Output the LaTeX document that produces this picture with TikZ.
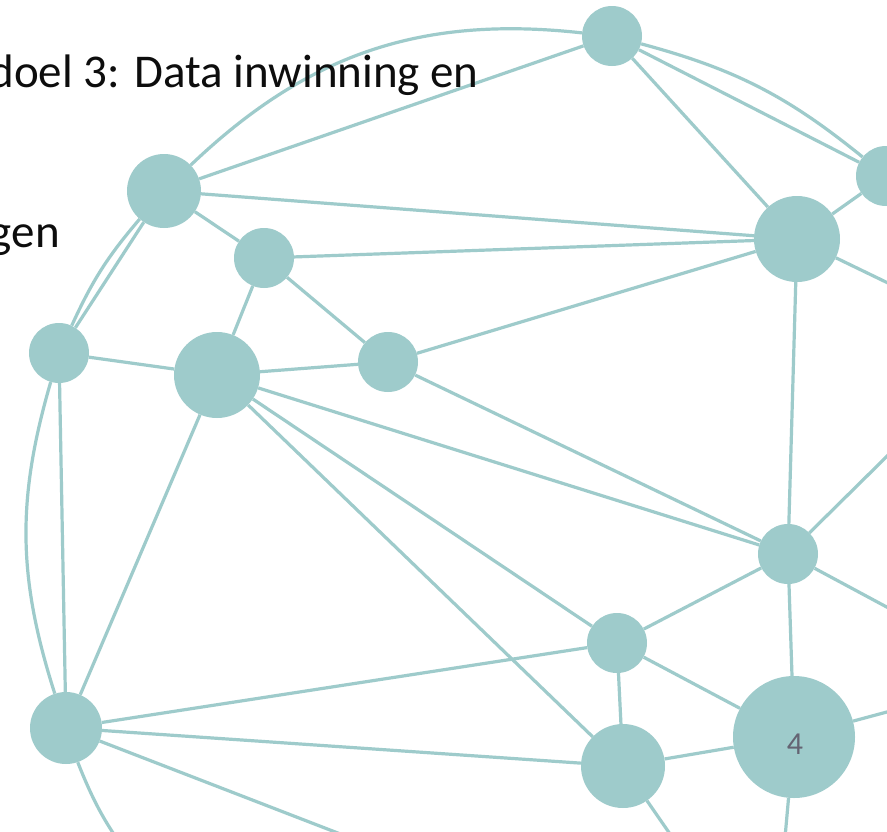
\documentclass[tikz,border=0pt]{standalone}
\usepackage{fontspec}
\setmainfont{Carlito}
\usetikzlibrary{backgrounds}
\definecolor{netteal}{RGB}{158,203,203}
\definecolor{inktext}{RGB}{13,13,13}
\definecolor{pagegray}{RGB}{100,100,115}
\begin{document}
\begin{tikzpicture}[x=1pt,y=-1pt,
  dot/.style={circle, fill=netteal, inner sep=0pt, minimum size=#1},
  link/.style={draw=netteal, line width=3.2pt},
  title/.style={font=\fontsize{47}{56}\selectfont, text=inktext, inner sep=0pt}]
\useasboundingbox (0,0) rectangle (887,831);
\clip (0,0) rectangle (887,831);

% network nodes
\node[dot=60pt]  (A) at (612,36)  {};
\node[dot=74pt]  (B) at (164,191) {};
\node[dot=60pt]  (C) at (264,258) {};
\node[dot=60pt]  (D) at (886,176) {};
\node[dot=86pt]  (E) at (797,239) {};
\node[dot=60pt]  (F) at (59,353)  {};
\node[dot=86pt]  (G) at (217,375) {};
\node[dot=60pt]  (H) at (388,362) {};
\node[dot=60pt]  (I) at (788,554) {};
\node[dot=60pt]  (J) at (617,643) {};
\node[dot=84pt]  (K) at (623,766) {};
\node[dot=122pt] (L) at (794,737) {};
\node[dot=72pt]  (M) at (66,728)  {};

% links that leave the page
\coordinate (eOut)  at (950,313);
\coordinate (iOutA) at (950,394);
\coordinate (iOutB) at (950,641);
\coordinate (lOutR) at (950,695);
\coordinate (lOutB) at (783,860);
\coordinate (kOut)  at (688,860);
\coordinate (mOutA) at (387,852);
\coordinate (mOutB) at (150,880);

\begin{scope}[on background layer]
  \fill[white] (0,0) rectangle (887,831);
  % outer ring
  \draw[link] (F) to[bend left=8] (B);
  \draw[link] (B) to[bend left=25] (A);
  \draw[link] (A) to[bend left=12] (D);
  \draw[link] (F) to[bend right=17] (M);
  \draw[link] (M) to[bend right=10] (mOutB);
  % straight links
  \draw[link] (A) -- (B);
  \draw[link] (A) -- (D);
  \draw[link] (A) -- (E);
  \draw[link] (B) -- (E);
  \draw[link] (B) -- (C);
  \draw[link] (B) -- (F);
  \draw[link] (C) -- (E);
  \draw[link] (C) -- (G);
  \draw[link] (C) -- (H);
  \draw[link] (D) -- (E);
  \draw[link] (E) -- (H);
  \draw[link] (E) -- (I);
  \draw[link] (E) -- (eOut);
  \draw[link] (F) -- (G);
  \draw[link] (F) -- (M);
  \draw[link] (G) -- (H);
  \draw[link] (G) -- (I);
  \draw[link] (H) -- (I);
  \draw[link] (G) -- (J);
  \draw[link] (G) -- (K);
  \draw[link] (G) -- (M);
  \draw[link] (I) -- (J);
  \draw[link] (I) -- (L);
  \draw[link] (I) -- (iOutA);
  \draw[link] (I) -- (iOutB);
  \draw[link] (J) -- (K);
  \draw[link] (J) -- (L);
  \draw[link] (J) -- (M);
  \draw[link] (K) -- (L);
  \draw[link] (K) -- (M);
  \draw[link] (K) -- (kOut);
  \draw[link] (L) -- (lOutB);
  \draw[link] (L) -- (lOutR);
  \draw[link] (M) -- (mOutA);
\end{scope}

% page number
\node[font=\fontsize{32}{36}\selectfont, text=pagegray, inner sep=0pt] (pagenum) at (795,744) {4};

% title lines
\node[title, anchor=base east] (line1) at (479,87) {doel 3: Data inwinning en};
\node[title, anchor=base east] (line2) at (60,247) {gen};
\end{tikzpicture}
\end{document}
